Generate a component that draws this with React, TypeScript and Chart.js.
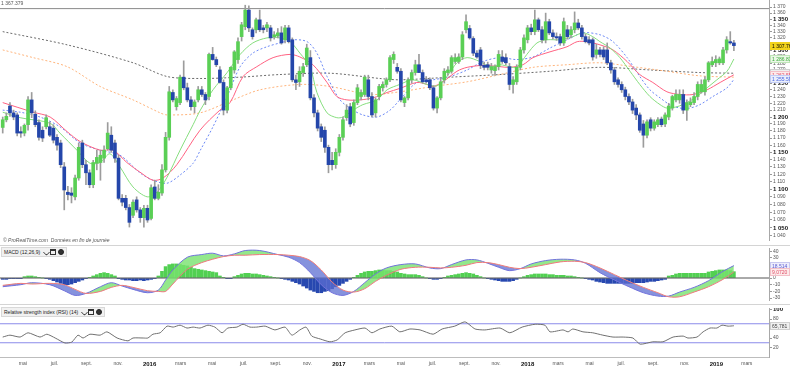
import React, { useEffect, useRef } from 'react';
import { Chart, registerables } from 'chart.js';

Chart.register(...registerables);

const FONT = "'Liberation Sans', Arial, sans-serif";

// weekly candles, week 0 = week of 23 March 2015
const opens = [1185,1196,1216,1206,1203,1179,1177,1189,1225,1204,1192,1181,1186,1186,1184,1171,1163,1130,1096,1095,1090,1115,1163,1133,1122,1106,1135,1136,1142,1155,1174,1163,1142,1088,1088,1076,1066,1086,1073,1063,1075,1062,1103,1088,1095,1126,1171,1236,1215,1221,1259,1243,1225,1215,1225,1240,1233,1230,1294,1286,1270,1251,1210,1243,1270,1286,1322,1338,1365,1333,1333,1349,1336,1336,1336,1322,1323,1328,1317,1336,1317,1255,1252,1266,1278,1289,1228,1206,1186,1181,1157,1139,1133,1150,1171,1199,1215,1192,1221,1230,1233,1255,1230,1206,1230,1243,1248,1255,1286,1274,1268,1221,1228,1255,1266,1278,1266,1255,1255,1243,1213,1228,1255,1266,1268,1283,1283,1290,1333,1335,1319,1296,1301,1277,1278,1270,1269,1275,1290,1289,1275,1248,1252,1274,1301,1317,1336,1330,1349,1333,1317,1346,1328,1322,1322,1312,1333,1325,1333,1344,1336,1322,1317,1317,1294,1301,1301,1301,1281,1270,1255,1248,1240,1230,1222,1213,1203,1190,1174,1196,1184,1189,1197,1190,1200,1213,1225,1225,1233,1210,1218,1221,1230,1237,1237,1255,1278,1281,1281,1281,1301,1314,1312];
const highs = [1200,1206,1221,1210,1206,1186,1190,1230,1236,1209,1196,1186,1203,1193,1189,1175,1167,1136,1104,1102,1119,1163,1167,1139,1126,1139,1153,1153,1159,1192,1186,1167,1146,1093,1092,1080,1086,1090,1076,1079,1079,1106,1112,1106,1133,1178,1245,1240,1230,1262,1284,1250,1230,1225,1245,1245,1236,1296,1305,1290,1275,1255,1245,1275,1300,1320,1345,1373,1372,1336,1352,1365,1340,1345,1340,1330,1335,1338,1340,1340,1320,1262,1275,1280,1310,1300,1233,1210,1190,1186,1160,1150,1155,1175,1200,1218,1220,1225,1248,1240,1262,1262,1236,1228,1248,1252,1258,1292,1298,1280,1272,1230,1258,1270,1285,1294,1270,1260,1258,1246,1230,1258,1272,1275,1292,1295,1295,1330,1357,1340,1322,1300,1305,1282,1282,1280,1278,1300,1300,1295,1280,1260,1278,1305,1325,1340,1342,1365,1352,1338,1360,1350,1333,1328,1326,1352,1340,1338,1362,1350,1340,1326,1322,1320,1310,1305,1306,1312,1285,1274,1258,1252,1244,1234,1226,1218,1206,1195,1196,1199,1196,1199,1200,1206,1220,1232,1240,1240,1240,1225,1228,1236,1252,1255,1260,1283,1290,1292,1290,1305,1322,1330,1316];
const lows = [1177,1193,1201,1196,1173,1171,1173,1181,1199,1186,1167,1165,1183,1172,1163,1153,1129,1073,1086,1082,1086,1112,1129,1106,1102,1102,1126,1112,1136,1153,1150,1136,1086,1078,1073,1051,1063,1070,1057,1051,1057,1060,1086,1086,1092,1123,1167,1222,1210,1218,1240,1222,1210,1206,1222,1230,1218,1225,1285,1275,1250,1203,1206,1240,1265,1280,1315,1333,1330,1318,1328,1330,1328,1330,1315,1318,1320,1310,1312,1312,1252,1240,1245,1260,1275,1225,1200,1180,1165,1150,1122,1126,1128,1145,1167,1195,1186,1188,1218,1225,1230,1225,1200,1200,1225,1238,1244,1252,1280,1265,1222,1215,1225,1250,1262,1266,1250,1250,1240,1210,1206,1225,1250,1262,1265,1280,1280,1286,1328,1318,1292,1288,1272,1270,1270,1265,1262,1270,1280,1278,1240,1235,1248,1270,1296,1312,1325,1325,1330,1312,1312,1325,1318,1316,1308,1308,1318,1320,1328,1333,1318,1312,1309,1285,1288,1290,1286,1278,1265,1248,1244,1236,1225,1218,1205,1196,1178,1157,1170,1180,1181,1186,1186,1186,1196,1210,1222,1220,1205,1195,1215,1218,1225,1235,1232,1252,1275,1275,1278,1278,1296,1310,1300];
const closes = [1196,1201,1206,1200,1177,1177,1188,1225,1206,1189,1171,1170,1199,1174,1167,1160,1133,1099,1093,1092,1115,1157,1133,1122,1106,1136,1143,1146,1153,1177,1153,1142,1088,1083,1076,1057,1083,1073,1063,1075,1060,1102,1088,1096,1126,1171,1237,1225,1227,1259,1243,1225,1215,1222,1240,1233,1225,1294,1286,1278,1251,1210,1243,1274,1298,1314,1341,1365,1336,1322,1349,1333,1333,1341,1320,1325,1328,1312,1336,1314,1255,1251,1268,1275,1304,1228,1206,1184,1171,1157,1133,1133,1150,1171,1196,1210,1190,1221,1243,1236,1259,1230,1203,1225,1245,1248,1255,1289,1294,1268,1225,1228,1255,1266,1278,1266,1252,1252,1243,1213,1228,1252,1268,1270,1289,1289,1290,1325,1346,1320,1296,1290,1277,1274,1274,1275,1275,1294,1283,1281,1248,1255,1274,1301,1320,1336,1330,1349,1333,1317,1346,1328,1322,1320,1312,1346,1322,1333,1344,1336,1322,1314,1312,1290,1301,1294,1290,1281,1270,1252,1248,1240,1230,1222,1210,1203,1181,1174,1193,1184,1193,1196,1189,1203,1216,1230,1233,1233,1210,1221,1222,1230,1248,1248,1255,1281,1283,1286,1287,1301,1317,1312,1307.76];

// moving averages: [week, price]
const maGreen: [number, number][] = [[0,1207],[4.8,1199],[13.1,1191],[15.8,1177],[20.5,1153],[24.1,1135],[26.9,1136],[29.6,1148],[32.4,1130],[36,1103],[39.9,1090],[42.6,1096],[45.4,1116],[49,1153],[52.6,1189],[54.6,1210],[58.1,1240],[62,1266],[65.6,1294],[69.1,1312],[73,1320],[76.6,1320],[79.4,1314],[82.1,1296],[84.9,1275],[86.8,1236],[89.6,1206],[92.3,1199],[94,1200],[96.8,1210],[99.5,1218],[103.4,1225],[106.2,1240],[109.7,1248],[113.3,1255],[117.2,1248],[120,1246],[122.7,1260],[125.5,1281],[128.3,1289],[131.8,1283],[134.6,1275],[137.4,1278],[140.1,1275],[142,1274],[144.8,1294],[147.6,1312],[150.4,1317],[154,1317],[157.5,1322],[160.3,1328],[163,1322],[165,1314],[167.8,1304],[170.5,1289],[173.3,1268],[176,1248],[178.8,1230],[181.6,1218],[183.5,1213],[186.3,1215],[189,1221],[191.8,1230],[194.6,1243],[197.3,1255],[200.1,1268],[202,1286.81]];
const maRed: [number, number][] = [[0,1221],[8.4,1207],[13.1,1200],[17.8,1179],[21.4,1165],[26.9,1153],[30.5,1153],[34.3,1136],[37.9,1123],[41.5,1112],[44.3,1115],[48.1,1133],[54.5,1181],[60,1210],[62.8,1221],[66.4,1260],[70.2,1275],[74.7,1289],[79.4,1294],[82.1,1290],[85.7,1278],[89.6,1251],[92.3,1230],[95.1,1225],[98.7,1225],[102.3,1228],[106.2,1236],[109.7,1242],[114.4,1251],[117.2,1248],[118.9,1245],[121.6,1252],[125.5,1268],[128.3,1274],[132.7,1277],[137.4,1275],[140.1,1274],[143.7,1278],[146.5,1289],[151.2,1298],[155.9,1306],[158.7,1314],[161.4,1314],[165,1309],[168.6,1301],[172.5,1283],[176,1263],[179.6,1251],[183.5,1237],[187.1,1233],[190.7,1233],[194.6,1240],[198.2,1251],[202,1262.55]];
const maBlue: [number, number][] = [[0,1210],[4.8,1207],[10.3,1200],[15.8,1186],[21.4,1163],[26.9,1153],[32.4,1146],[37.9,1122],[41.5,1112],[45.4,1108],[49,1119],[52.6,1135],[54.6,1153],[58.1,1186],[62,1230],[65.6,1275],[69.1,1296],[73,1306],[76.6,1312],[80.2,1317],[84.1,1314],[86.8,1296],[89.6,1260],[93.2,1225],[96.8,1210],[99.5,1203],[103.4,1200],[107,1210],[109.7,1225],[114.4,1251],[118.9,1255],[123.6,1260],[128.3,1270],[132.7,1283],[137.4,1289],[142,1286],[146.5,1290],[151.2,1304],[155.9,1317],[160.3,1328],[165,1325],[168.6,1314],[172.5,1289],[176,1260],[178.8,1240],[181.6,1228],[184.3,1218],[187.1,1213],[189.8,1213],[192.6,1218],[196.2,1230],[200.1,1243],[202,1255.59]];
const maOrange: [number, number][] = [[0,1301],[8.4,1289],[17.8,1275],[26.9,1245],[36,1225],[43.5,1206],[45.4,1203],[54.5,1206],[63.6,1225],[71.1,1240],[82.1,1248],[90.4,1245],[101.5,1233],[109.7,1237],[118.9,1245],[128.3,1252],[137.4,1263],[146.5,1274],[155.9,1278],[165,1281],[174.1,1275],[183.5,1268],[192.6,1261],[202,1259]];
const maGray: [number, number][] = [[0,1330],[17.8,1309],[36,1281],[45.4,1260],[54.5,1257],[65.6,1259],[76.6,1263],[90.4,1265],[104.2,1257],[109.7,1255],[123.6,1259],[137.4,1263],[151.2,1268],[165,1274],[178.8,1270],[192.6,1266],[202,1265]];
const topLevel = 1367.379;

// MACD (12,26,9)
const macdWeeks = [0,5,8,13,17,20,23,27,30,33,36,40,43,45,47,51,55,58,61,64,67,71,76,79,82,85,88,91,94,97,100,103,106,110,114,118,121,124,128,131,134,137,140,143,146,150,154,158,161,165,169,173,177,181,184,187,191,195,199,202];
const macdLine = [-13,-10,-7,-10,-19,-26,-23,-13,-7,-12,-17,-22,-18,-3,12,31,35,37,33,36,41,41,35,31,23,8,-10,-22,-26,-20,-7,6,15,20,21,15,14,20,27,27,22,16,11,14,21,26,28,27,22,8,-3,-13,-22,-27,-27,-21,-14,-4,10,18.514];
const signalLine = [-11,-8,-9,-8,-10,-17,-23,-20,-14,-11,-14,-19,-20,-20,-9,13,23,28,32,34,34,35,35,34,32,26,12,-6,-18,-21,-16,-5,4,13,16,16,15,16,19,23,23,20,16,14,16,20,24,25,23,15,5,-5,-14,-22,-28,-28,-21,-13,-2,9.072];
const macdHist = [-2,-2,-1,-1,-1,-1,2,3,3,2,1,0,-1,-2,-4,-6,-8,-10,-10,-9,-7,-5,-3,-1,1,3,5,7,8,7,5,3,-1,-2,-3,-3,-4,-4,-3,-4,-3,-2,-1,3,10,17,20,21,21,20,19,18,16,14,13,12,11,10,9,8,3,1,-1,-1,2,4,6,7,7,6,6,5,4,3,2,1,0,-1,-2,-3,-5,-7,-9,-12,-15,-18,-20,-22,-22,-20,-19,-16,-13,-11,-8,-5,-2,1,4,7,9,10,10,11,12,12,11,11,10,9,7,6,5,5,5,4,2,0,-1,-2,-2,-1,1,3,4,5,6,7,8,7,6,4,2,0,-1,-2,-3,-4,-5,-5,-5,-4,-2,0,2,4,5,6,6,6,6,5,5,4,4,4,3,3,2,1,0,-1,-2,-3,-5,-6,-7,-8,-8,-8,-8,-8,-8,-8,-8,-7,-7,-7,-6,-5,-5,-4,-3,-2,3,4,6,7,7,7,7,7,7,7,7,9,10,11,12,12,12,11,9.442];

// RSI (14): [week, value]
const rsi: [number, number][] = [[0,42],[2,46],[4.8,42],[7,51],[10.3,42],[12.2,48],[14.5,40],[17.2,29.5],[19.1,31.5],[20.8,46],[22.2,40],[24.1,48],[26.9,46],[28.8,53],[31.6,40],[34.6,34],[36,40],[38.8,40],[40.1,40],[41.5,48],[43.5,51],[45.4,65],[47.1,63],[49,67],[50.9,61],[52.6,63],[54.5,61],[56.7,67],[58.6,63],[60.6,51],[62.2,61],[64.7,63],[66.4,69],[68.3,63],[70.2,63],[72.5,65],[75.2,57],[78,63],[79.9,46],[82.1,57],[83.8,63],[85.4,44],[87.7,38],[90.4,32],[92.4,36],[94.6,51],[97.3,57],[100.1,61],[102,51],[104.2,59],[107.5,65],[109.7,53],[112.5,59],[115.3,57],[118.9,48],[121.4,59],[124.9,65],[127.7,74],[130.5,59],[133.2,57],[137.4,61],[140.1,51],[143.5,63],[147.1,69],[149.8,67],[151.2,53],[154.8,57],[156.2,53],[157.5,59],[160.3,53],[163,51],[165.8,46],[168.6,42],[171.4,42],[174.1,40],[176.1,27],[179.6,32],[182.4,32],[185.2,42],[188,44],[189.3,40],[191.8,42],[193.5,53],[195.4,61],[197.3,61],[198.7,67],[200.4,65],[202,65.781]];
const rsiBands = [70, 30];

// axes
const priceTicks = [1040,1050,1060,1070,1080,1090,1100,1110,1120,1130,1140,1150,1160,1170,1180,1190,1200,1210,1220,1230,1240,1250,1260,1270,1280,1290,1300,1310,1320,1330,1340,1350,1360,1370];
const macdTicks = [-30,-20,-10,0,10,20,30,40];
const rsiTicks = [20,40,60,80,100];
const monthTicks: [number, number][] = [[2015,5],[2015,7],[2015,9],[2015,11],[2016,1],[2016,3],[2016,5],[2016,7],[2016,9],[2016,11],[2017,1],[2017,3],[2017,5],[2017,7],[2017,9],[2017,11],[2018,1],[2018,3],[2018,5],[2018,7],[2018,9],[2018,11],[2019,1],[2019,3]];
const monthLabels = ['mai','juil.','sept.','nov.','2016','mars','mai','juil.','sept.','nov.','2017','mars','mai','juil.','sept.','nov.','2018','mars','mai','juil.','sept.','nov.','2019','mars'];

const WEEK0 = Date.UTC(2015, 2, 23);
const weekOf = (y: number, m: number) => (Date.UTC(y, m - 1, 1) - WEEK0) / (7 * 86400000);

const X_MIN = -0.75;
const X_MAX = 211.7;
const AXIS_W = 21;
const UP = '#5acf55';
const UP_B = '#2f8f2f';
const DOWN = '#2446aa';
const DOWN_B = '#152c70';

const fmtSpace = (v: number, dec: number) => {
  const s = v.toFixed(dec);
  const [i, f] = s.split('.');
  const t = i.length > 3 ? i.slice(0, i.length - 3) + ' ' + i.slice(-3) : i;
  return f ? t + '.' + f : t;
};
const fmtComma = (v: number, dec: number) => v.toFixed(dec).replace('.', ',');

const pts = (arr: [number, number][]) => arr.map(([x, y]) => ({ x, y }));
const last = <T,>(a: T[]) => a[a.length - 1];

type Tag = { value: number; text: string; bg: string; fg: string; border?: string };

const tagPlugin = (tags: Tag[]) => ({
  id: 'valueTags',
  afterDraw(chart: any) {
    const { ctx, chartArea, scales } = chart;
    const ys = scales.y;
    ctx.save();
    ctx.font = `5px ${FONT}`;
    ctx.textBaseline = 'middle';
    tags.forEach((t) => {
      const py = Math.round(ys.getPixelForValue(t.value));
      const x0 = chartArea.right + 1;
      ctx.fillStyle = t.bg;
      ctx.fillRect(x0, py - 4, chart.width - x0, 8);
      if (t.border) {
        ctx.strokeStyle = t.border;
        ctx.lineWidth = 1;
        ctx.strokeRect(x0 + 0.5, py - 3.5, chart.width - x0 - 1, 7);
      }
      ctx.fillStyle = t.fg;
      ctx.fillText(t.text, x0 + 2, py + 0.5);
    });
    ctx.restore();
  },
});

const yAxisBase = (ticks: number[], fmt: (v: number) => string, isBold: (v: number) => boolean) => ({
  position: 'right' as const,
  afterBuildTicks: (ax: any) => {
    ax.ticks = ticks.map((v) => ({ value: v }));
  },
  afterFit: (ax: any) => {
    ax.width = AXIS_W;
    ax.paddingTop = 0;
    ax.paddingBottom = 0;
  },
  ticks: {
    autoSkip: false,
    padding: 1,
    callback: (v: any) => fmt(Number(v)),
    font: (c: any) => ({ family: FONT, size: c.tick && isBold(c.tick.value) ? 6 : 5, weight: c.tick && isBold(c.tick.value) ? 'bold' : 'normal' }),
    color: (c: any) => (c.tick && isBold(c.tick.value) ? '#111' : '#555'),
  },
  grid: { drawOnChartArea: false, drawTicks: true, tickLength: 3, color: '#9a9a9a', offset: false },
  border: { display: true, color: '#a8a8a8' },
});

const hiddenX = { type: 'linear' as const, min: X_MIN, max: X_MAX, display: false, offset: false, grid: { offset: false } };

const baseOpts = {
  responsive: false,
  animation: false as const,
  devicePixelRatio: 1,
  layout: { padding: 0 },
  plugins: { legend: { display: false }, tooltip: { enabled: false } },
};

function makeMain(canvas: HTMLCanvasElement) {
  const isUp = (i: number) => closes[i] >= opens[i];
  const line = (data: [number, number][], color: string, dash: number[] | undefined, order: number) => ({
    type: 'line' as const,
    data: pts(data),
    borderColor: color,
    borderWidth: 1,
    borderDash: dash,
    pointRadius: 0,
    tension: 0.3,
    order,
  });
  return new Chart(canvas, {
    type: 'bar',
    data: {
      datasets: [
        {
          type: 'bar',
          data: closes.map((c, i) => ({ x: i, y: [opens[i], c] })) as any,
          barThickness: 3,
          grouped: false,
          minBarLength: 1,
          backgroundColor: (c: any) => (isUp(c.dataIndex) ? UP : DOWN),
          borderColor: (c: any) => (isUp(c.dataIndex) ? UP_B : DOWN_B),
          borderWidth: 0,
          order: 0,
        },
        {
          type: 'bar',
          data: closes.map((c, i) => ({ x: i, y: [lows[i], highs[i]] })) as any,
          barThickness: 1,
          grouped: false,
          backgroundColor: '#9c9c9c',
          order: 1,
        },
        line(maGreen, '#86de7e', undefined, 2),
        line(maRed, '#ff6282', undefined, 3),
        line(maBlue, '#6b88f5', [2, 2], 4),
        line(maOrange, '#ffb47c', [2, 2], 5),
        line(maGray, '#6a6a6a', [2, 2], 6),
        { type: 'line', data: [{ x: X_MIN, y: topLevel }, { x: X_MAX, y: topLevel }], borderColor: '#8a8a8a', borderWidth: 1, pointRadius: 0, order: 7 },
      ] as any,
    },
    options: {
      ...baseOpts,
      scales: {
        x: hiddenX,
        y: { type: 'logarithmic', min: 1033.5, max: 1381.65, ...yAxisBase(priceTicks, (v) => fmtSpace(v, 0), (v) => v % 50 === 0) },
      },
    } as any,
    plugins: [
      tagPlugin([
        { value: last(closes), text: fmtSpace(last(closes), 2), bg: '#f2d31b', fg: '#000' },
        { value: last(maGreen)[1], text: fmtSpace(last(maGreen)[1], 2), bg: '#eaf8e6', fg: '#3aa83a', border: '#bfe6b8' },
        { value: last(maGray)[1], text: fmtSpace(last(maGray)[1], 2), bg: '#efefef', fg: '#555', border: '#cfcfcf' },
        { value: last(maRed)[1], text: fmtSpace(last(maRed)[1], 2), bg: '#fdeaea', fg: '#e0506a', border: '#f3c0c8' },
        { value: last(maBlue)[1], text: fmtSpace(last(maBlue)[1], 2), bg: '#eaeefc', fg: '#4a66e0', border: '#c2ccf4' },
      ]) as any,
    ],
  });
}

function makeMacd(canvas: HTMLCanvasElement) {
  return new Chart(canvas, {
    type: 'bar',
    data: {
      datasets: [
        {
          type: 'bar',
          data: macdHist.map((v, i) => ({ x: i, y: v })),
          barThickness: 3,
          grouped: false,
          backgroundColor: (c: any) => (macdHist[c.dataIndex] >= 0 ? '#52d052' : '#2748b0'),
          order: 3,
        },
        {
          type: 'line',
          data: macdWeeks.map((x, k) => ({ x, y: macdLine[k] })),
          borderColor: '#7272dc',
          borderWidth: 1,
          pointRadius: 0,
          tension: 0.3,
          fill: { target: 2, above: 'rgba(120,226,110,0.8)', below: 'rgba(92,110,210,0.75)' },
          order: 1,
        },
        {
          type: 'line',
          data: macdWeeks.map((x, k) => ({ x, y: signalLine[k] })),
          borderColor: '#f07a7a',
          borderWidth: 1,
          pointRadius: 0,
          tension: 0.3,
          order: 0,
        },
        { type: 'line', data: [{ x: X_MIN, y: 0 }, { x: X_MAX, y: 0 }], borderColor: '#555', borderWidth: 1, pointRadius: 0, order: 2 },
      ] as any,
    },
    options: {
      ...baseOpts,
      scales: {
        x: hiddenX,
        y: { type: 'linear', min: -34.33, max: 44.78, ...yAxisBase(macdTicks, (v) => String(v), () => false) },
      },
    } as any,
    plugins: [
      tagPlugin([
        { value: last(macdLine), text: fmtComma(last(macdLine), 3), bg: '#eeeefc', fg: '#5a5ad0', border: '#c8c8f0' },
        { value: last(macdHist), text: fmtComma(last(macdHist), 4), bg: '#eaf8e6', fg: '#3aa83a', border: '#bfe6b8' },
        { value: last(signalLine), text: fmtComma(last(signalLine), 4), bg: '#fdeaea', fg: '#e0506a', border: '#f3c0c8' },
      ]) as any,
    ],
  });
}

function makeRsi(canvas: HTMLCanvasElement) {
  const monthPos = monthTicks.map(([y, m]) => weekOf(y, m));
  const isYear = (i: number) => /^\d/.test(monthLabels[i] || '');
  return new Chart(canvas, {
    type: 'line',
    data: {
      datasets: [
        { data: pts(rsi), borderColor: '#707070', borderWidth: 1, pointRadius: 0, tension: 0.2, order: 0 },
        ...rsiBands.map((b) => ({ data: [{ x: X_MIN, y: b }, { x: X_MAX, y: b }], borderColor: '#8b8bea', borderWidth: 1, pointRadius: 0, order: 1 })),
      ] as any,
    },
    options: {
      ...baseOpts,
      scales: {
        x: {
          type: 'linear',
          min: X_MIN,
          max: X_MAX,
          offset: false,
          afterBuildTicks: (ax: any) => {
            ax.ticks = monthPos.map((v) => ({ value: v }));
          },
          afterFit: (ax: any) => {
            ax.height = 11;
            ax.paddingLeft = 0;
            ax.paddingRight = 0;
          },
          ticks: {
            autoSkip: false,
            maxRotation: 0,
            padding: 4,
            callback: (_v: any, i: number) => monthLabels[i],
            font: (c: any) => ({ family: FONT, size: isYear(c.index) ? 6 : 5, weight: isYear(c.index) ? 'bold' : 'normal' }),
            color: (c: any) => (isYear(c.index) ? '#111' : '#555'),
          },
          grid: { display: false, drawTicks: false },
          border: { display: true, color: '#bdbdbd' },
        },
        y: { type: 'linear', min: 0, max: 103.2, ...yAxisBase(rsiTicks, (v) => String(v), (v) => v === 100) },
      },
    } as any,
    plugins: [
      tagPlugin([{ value: last(rsi)[1], text: fmtComma(last(rsi)[1], 3), bg: '#f0f0f0', fg: '#444', border: '#cfcfcf' }]) as any,
    ],
  });
}

function Icons() {
  const s: React.CSSProperties = { display: 'inline-block', boxSizing: 'border-box', marginLeft: 1.5 };
  return (
    <span style={{ display: 'inline-flex', alignItems: 'center', marginLeft: 2 }}>
      <span style={{ ...s, width: 5, height: 5, borderLeft: '1.5px solid #333', borderBottom: '1.5px solid #333', borderRadius: '0 0 0 2px', transform: 'rotate(-45deg)' }} />
      <span style={{ ...s, width: 6, height: 6, border: '1px solid #333', borderTopWidth: 2 }} />
      <span style={{ ...s, width: 6, height: 6, borderRadius: '50%', background: '#333', border: '1px solid #222' }} />
    </span>
  );
}

const titleStyle: React.CSSProperties = {
  position: 'absolute',
  left: 1,
  height: 8,
  padding: '0 2px',
  background: '#f1f1f1',
  border: '1px solid #d8d8d8',
  fontSize: 5,
  lineHeight: '8px',
  color: '#222',
  display: 'flex',
  alignItems: 'center',
  whiteSpace: 'nowrap',
};

export default function App() {
  const mainRef = useRef<HTMLCanvasElement>(null);
  const macdRef = useRef<HTMLCanvasElement>(null);
  const rsiRef = useRef<HTMLCanvasElement>(null);

  useEffect(() => {
    const charts = [makeMain(mainRef.current!), makeMacd(macdRef.current!), makeRsi(rsiRef.current!)];
    return () => charts.forEach((c) => c.destroy());
  }, []);

  return (
    <div style={{ position: 'fixed', left: 0, top: 0, width: 790, height: 368, background: '#fff', overflow: 'hidden', fontFamily: FONT }}>
      <canvas ref={mainRef} width={790} height={241} style={{ position: 'absolute', left: 0, top: 0 }} />
      <div style={{ position: 'absolute', left: 1, top: 0, fontSize: 5, lineHeight: '7px', color: '#555', background: '#fff' }}>
        {fmtSpace(topLevel, 3)}
      </div>
      <div style={{ position: 'absolute', left: 3, top: 237, fontSize: 5, lineHeight: '7px', color: '#555', fontStyle: 'italic' }}>
        © ProRealTime.com&nbsp;&nbsp;Données en fin de journée
      </div>
      <div style={{ position: 'absolute', left: 0, top: 245, width: 790, height: 1, background: '#d4d4d4' }} />
      <canvas ref={macdRef} width={790} height={53} style={{ position: 'absolute', left: 0, top: 248 }} />
      <div style={{ ...titleStyle, top: 247 }}>
        MACD (12,26,9)
        <Icons />
      </div>
      <div style={{ position: 'absolute', left: 0, top: 304, width: 790, height: 1, background: '#d4d4d4' }} />
      <canvas ref={rsiRef} width={790} height={60} style={{ position: 'absolute', left: 0, top: 308 }} />
      <div style={{ ...titleStyle, top: 307 }}>
        Relative strength index (RSI) (14)
        <Icons />
      </div>
    </div>
  );
}
